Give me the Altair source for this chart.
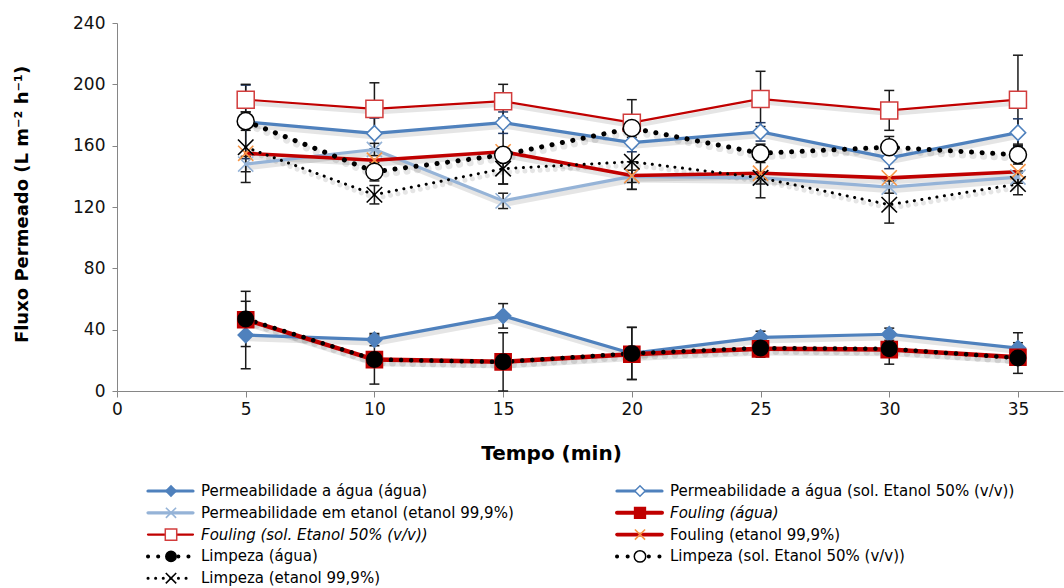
import altair as alt
import pandas as pd

# ---------------- data ----------------
tempo = [5, 10, 15, 20, 25, 30, 35]

series_names = [
    "Permeabilidade a água (água)",
    "Permeabilidade a água (sol. Etanol 50% (v/v))",
    "Permeabilidade em etanol (etanol 99,9%)",
    "Fouling (água)",
    "Fouling (sol. Etanol 50% (v/v))",
    "Fouling (etanol 99,9%)",
    "Limpeza (água)",
    "Limpeza (sol. Etanol 50% (v/v))",
    "Limpeza (etanol 99,9%)",
]

perm_agua = [36.5, 33.5, 49, 24.5, 35, 37, 28]
perm_sol50 = [175.5, 168, 175, 162, 169, 152, 168.5]
perm_etanol = [148, 157.5, 124, 140, 139, 133, 139.5]
fouling_agua = [46.5, 20.5, 19, 24, 27.5, 27, 22]
fouling_sol50 = [190, 184, 189, 175, 190.5, 183, 190]
fouling_etanol = [155, 150.5, 156, 140.5, 142, 139, 143]
limpeza_agua = [47, 20.5, 19, 24.5, 28, 27.5, 21.5]
limpeza_sol50 = [176, 143, 154, 171.5, 155, 159, 154]
limpeza_etanol = [159, 128, 145, 149.5, 139, 121.5, 135]

perm_agua_err = [22, 4, 8, 17, 4, 4, 10]
perm_sol50_err = [24, 10, 7, 6, 6, 7, 9]
perm_etanol_err = [5, 4, 5, 4, 4, 4, 4]
fouling_agua_err = [0, 0, 0, 0, 0, 0, 0]
fouling_sol50_err = [10, 17, 11, 15, 18, 13, 29]
fouling_etanol_err = [0, 0, 0, 9, 0, 0, 0]
limpeza_agua_err = [18, 16, 19, 17, 6, 10, 10]
limpeza_sol50_err = [6, 6, 19, 6, 6, 7, 6]
limpeza_etanol_err = [23, 6, 10, 18, 13, 12, 7]

y_ticks = [0, 40, 80, 120, 160, 200, 240]
x_ticks = [0, 5, 10, 15, 20, 25, 30, 35]

values = [perm_agua, perm_sol50, perm_etanol, fouling_agua, fouling_sol50,
          fouling_etanol, limpeza_agua, limpeza_sol50, limpeza_etanol]
errors = [perm_agua_err, perm_sol50_err, perm_etanol_err, fouling_agua_err,
          fouling_sol50_err, fouling_etanol_err, limpeza_agua_err,
          limpeza_sol50_err, limpeza_etanol_err]

rows = []
for i, (name, vals, errs) in enumerate(zip(series_names, values, errors)):
    for t, v, e in zip(tempo, vals, errs):
        rows.append({"series": name, "idx": i, "tempo": t, "fluxo": v,
                     "err": e, "lo": v - e, "hi": v + e})
df = pd.DataFrame(rows)
legend_df = pd.DataFrame({"series": series_names, "idx": list(range(len(series_names)))})

# ---------------- styles ----------------
XPATH = "M-1,-1L1,1M1,-1L-1,1"
BLUE = "#4F81BD"
LBLUE = "#95B3D7"
RED = "#C00000"
ORANGE = "#F79646"
styles = [
    dict(line=BLUE, width=3.2, dash=None, shape="diamond", fill=BLUE, stroke=BLUE, size=230, italic=False),
    dict(line=BLUE, width=3.2, dash=None, shape="diamond", fill="white", stroke=BLUE, size=240, italic=False),
    dict(line=LBLUE, width=3.2, dash=None, shape=XPATH, fill=None, stroke=LBLUE, size=230, italic=False),
    dict(line=RED, width=4.5, dash=None, shape="square", fill=RED, stroke=RED, size=260, italic=True),
    dict(line=RED, width=2.2, dash=None, shape="square", fill="white", stroke="#D23C3C", size=290, italic=True),
    dict(line=RED, width=3.6, dash=None, shape=XPATH, fill=None, stroke=ORANGE, size=230, italic=False),
    dict(line="black", width=4.5, dash=[0.1, 10], shape="circle", fill="black", stroke="black", size=240, italic=False),
    dict(line="black", width=5, dash=[0.1, 10.5], shape="circle", fill="white", stroke="black", size=290, italic=False),
    dict(line="black", width=3, dash=[0.1, 7.5], shape=XPATH, fill=None, stroke="black", size=240, italic=False),
]

FONT = "DejaVu Sans"

x_enc = alt.X("tempo:Q",
              scale=alt.Scale(domain=[0, 36.75], nice=False, zero=False),
              axis=alt.Axis(values=x_ticks, format="d", title="Tempo (min)",
                            titleFont=FONT, titleFontSize=20, titleFontWeight="bold",
                            titleColor="black", titleX=434, titleY=62,
                            titleBaseline="middle", titleAlign="center",
                            labelFont=FONT, labelFontSize=17, labelColor="#111",
                            labelFlush=False, labelPadding=4, tickSize=6,
                            tickColor="#868686", domainColor="#868686", grid=False))
y_enc = alt.Y("fluxo:Q",
              scale=alt.Scale(domain=[0, 240], nice=False),
              axis=alt.Axis(values=y_ticks, title="Fluxo Permeado (L m\u207b\u00b2 h\u207b\u00b9)",
                            titleFont=FONT, titleFontSize=18, titleFontWeight="bold",
                            titleColor="black", titleX=-95, titleY=181, titleAngle=270,
                            titleBaseline="middle", titleAlign="center",
                            labelFont=FONT, labelFontSize=17, labelColor="#111",
                            labelFlush=False, labelPadding=7, tickSize=5,
                            tickColor="#868686", domainColor="#868686", grid=False))

base = alt.Chart(df)

layers = []
# error bars
err_color = alt.condition("datum.idx == 1", alt.value("#1F3864"), alt.value("#1a1a1a"))
err = base.transform_filter("datum.err > 0")
layers.append(err.mark_rule(strokeWidth=1.5).encode(
    x=x_enc, y=alt.Y("lo:Q"), y2=alt.Y2("hi:Q"), color=err_color))
for fld in ["lo", "hi"]:
    layers.append(err.mark_rule(strokeWidth=1.5, xOffset=-5, x2Offset=5).encode(
        x="tempo:Q", x2=alt.X2("tempo:Q"), y=alt.Y(f"{fld}:Q"), color=err_color))

# shadows + lines
for i, st in enumerate(styles):
    sub = base.transform_filter(f"datum.idx == {i}")
    kw = dict(strokeCap="round", strokeJoin="round")
    if st["dash"] is not None:
        kw["strokeDash"] = st["dash"]
    layers.append(sub.mark_line(color="black", opacity=0.1, strokeWidth=st["width"] + 2,
                                xOffset=1.5, yOffset=3.5, **kw).encode(x=x_enc, y=y_enc))
for i, st in enumerate(styles):
    sub = base.transform_filter(f"datum.idx == {i}")
    kw = dict(strokeCap="round", strokeJoin="round")
    if st["dash"] is not None:
        kw["strokeDash"] = st["dash"]
    layers.append(sub.mark_line(color=st["line"], strokeWidth=st["width"], **kw)
                  .encode(x=x_enc, y=y_enc))

# markers
def marker(chart, st):
    if st["fill"] is None:
        return chart.mark_point(shape=st["shape"], filled=False, stroke=st["stroke"],
                                strokeWidth=1.6, size=st["size"], opacity=1)
    return chart.mark_point(shape=st["shape"], filled=True, fill=st["fill"],
                            stroke=st["stroke"], strokeWidth=1.5, size=st["size"], opacity=1)

for i, st in enumerate(styles):
    sub = base.transform_filter(f"datum.idx == {i}")
    layers.append(marker(sub, st).encode(x=x_enc, y=y_enc))

main = alt.layer(*layers)

# ---------------- custom legend ----------------
leg = (alt.Chart(legend_df)
       .transform_calculate(row="floor(datum.idx / 2)")
       .transform_calculate(col="datum.idx % 2")
       .transform_calculate(ly="468 + 21.8 * datum.row")
       .transform_calculate(lx0="31 + 469 * datum.col")
       .transform_calculate(lx1="datum.lx0 + 45")
       .transform_calculate(lxm="datum.lx0 + 23")
       .transform_calculate(ltx="datum.lx0 + 53"))
ly = alt.Y("ly:Q", scale=None, axis=None)
leg_layers = []
for i, st in enumerate(styles):
    sub = leg.transform_filter(f"datum.idx == {i}")
    kw = dict(strokeCap="round")
    if st["dash"] is not None:
        kw["strokeDash"] = st["dash"]
    lw = min(st["width"], 4)
    leg_layers.append(sub.mark_rule(color=st["line"], strokeWidth=lw, **kw).encode(
        x=alt.X("lx0:Q", scale=None, axis=None), x2="lx1:Q", y=ly))
    mst = dict(st)
    mst["size"] = st["size"] * 0.45
    leg_layers.append(marker(sub, mst).encode(x=alt.X("lxm:Q", scale=None, axis=None), y=ly))
    leg_layers.append(sub.mark_text(align="left", baseline="middle", font=FONT, fontSize=15,
                                    fontStyle="italic" if st["italic"] else "normal",
                                    color="black")
                      .encode(x=alt.X("ltx:Q", scale=None, axis=None), y=ly, text="series:N"))
legend = alt.layer(*leg_layers)

chart = (alt.layer(main, legend)
         .resolve_scale(x="independent", y="independent")
         .properties(width=946, height=368,
                     padding={"left": 117, "top": 23, "right": 1, "bottom": 197},
                     autosize=alt.AutoSizeParams(type="none"),
                     background="white")
         .configure_view(stroke=None))

chart.save("out.html", embed_options={"renderer": "svg", "actions": False})
